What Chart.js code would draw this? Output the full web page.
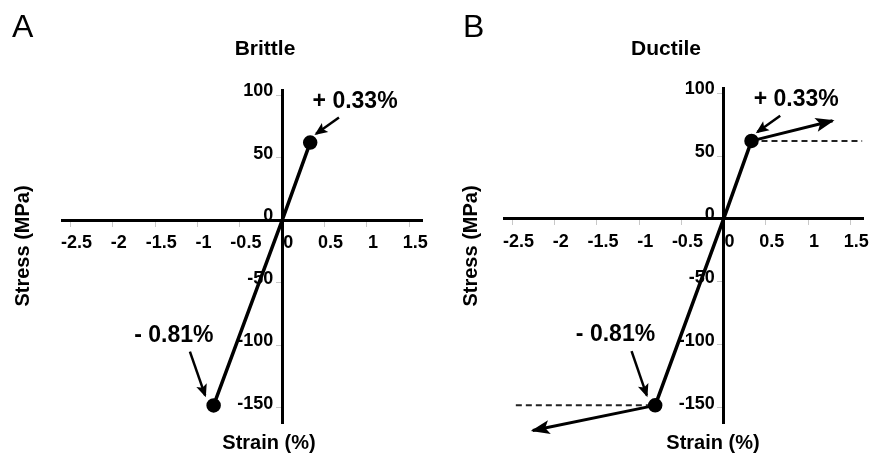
<!DOCTYPE html>
<html lang="en">
<head>
<meta charset="UTF-8">
<title>Brittle vs Ductile stress-strain</title>
<script src="https://cdn.jsdelivr.net/npm/chart.js"></script>
<style>
    body {
        margin: 0;
        background: #ffffff;
    }
    .wrap {
        display: flex;
        width: 872px;
        height: 453px;
    }
    .panel {
        width: 436px;
        height: 453px;
    }
</style>
</head>
<body>
<div class="wrap">
    <div class="panel"><canvas id="brittleChart" width="436" height="453"></canvas></div>
    <div class="panel"><canvas id="ductileChart" width="436" height="453"></canvas></div>
</div>
<script>
// axis ticks and ranges
const xTicks = [-2.5, -2, -1.5, -1, -0.5, 0, 0.5, 1, 1.5];
const yTicks = [-150, -100, -50, 0, 50, 100];
const strainRange = [-2.6, 1.65];
const stressRange = [-162, 104];

// elastic path: compression end, origin, tension end
const elasticStrain = [-0.81, 0, 0.33];
const elasticStress = [-148, 0, 62];

// ductile only: post-yield arrows and yield level guides
const tensionArrowStrain = [0.33, 1.29];
const tensionArrowStress = [62, 78];
const compressionArrowStrain = [-0.81, -2.26];
const compressionArrowStress = [-148, -168];
const tensionYieldStrain = [0.33, 1.64];
const tensionYieldStress = [62, 62];
const compressionYieldStrain = [-2.46, -0.81];
const compressionYieldStress = [-148, -148];

// callouts and their pointer arrows
const calloutText = ['+ 0.33%', '- 0.81%'];
const calloutStrain = [0.86, -1.28];
const calloutStress = [95, -92];
const pointerStrain = [[0.67, 0.40], [-1.09, -0.91]];
const pointerStress = [[82, 69], [-105, -140]];

const FONT = '"Liberation Sans", Arial, sans-serif';

function pts(xs, ys) {
    return xs.map((x, i) => ({ x: x, y: ys[i] }));
}

function lineSet(xs, ys, extra) {
    return Object.assign({
        data: pts(xs, ys),
        showLine: true,
        borderColor: '#000',
        backgroundColor: '#000',
        borderWidth: 3.5,
        pointRadius: 0,
        clip: false
    }, extra || {});
}

function baseSets() {
    const sets = [
        lineSet(elasticStrain, elasticStress, { pointRadius: [5.5, 0, 5.5] })
    ];
    pointerStrain.forEach((xs, i) => {
        sets.push(lineSet(xs, pointerStress[i], { borderWidth: 2.5, arrowHead: [11, 5.5] }));
    });
    return sets;
}

// draws arrow heads, panel letters, titles, axis titles and callouts
const panelDecor = {
    id: 'panelDecor',
    afterDatasetsDraw(chart, args, opts) {
        const ctx = chart.ctx;
        chart.data.datasets.forEach((ds, i) => {
            if (!ds.arrowHead) return;
            const pts = chart.getDatasetMeta(i).data;
            const a = pts[pts.length - 2], b = pts[pts.length - 1];
            const ang = Math.atan2(b.y - a.y, b.x - a.x);
            const L = ds.arrowHead[0], W = ds.arrowHead[1];
            ctx.save();
            ctx.translate(b.x, b.y);
            ctx.rotate(ang);
            ctx.fillStyle = '#000';
            ctx.beginPath();
            ctx.moveTo(2, 0);
            ctx.lineTo(-L, -W);
            ctx.lineTo(-L * 0.75, 0);
            ctx.lineTo(-L, W);
            ctx.closePath();
            ctx.fill();
            ctx.restore();
        });
    },
    afterDraw(chart, args, opts) {
        const ctx = chart.ctx;
        const sx = chart.scales.x, sy = chart.scales.y;
        ctx.save();
        ctx.fillStyle = '#000';

        ctx.font = '32px ' + FONT;
        ctx.textAlign = 'left';
        ctx.textBaseline = 'alphabetic';
        ctx.fillText(opts.letter, opts.letterX, 37);

        ctx.textAlign = 'center';
        ctx.textBaseline = 'middle';
        ctx.font = 'bold 21px ' + FONT;
        ctx.fillText(opts.title, opts.titleX, 49);

        ctx.font = 'bold 20px ' + FONT;
        ctx.fillText('Strain (%)', opts.xTitleX, 443);

        ctx.save();
        ctx.translate(opts.yTitleX, 246);
        ctx.rotate(-Math.PI / 2);
        ctx.fillText('Stress (MPa)', 0, 0);
        ctx.restore();

        ctx.font = 'bold 23px ' + FONT;
        calloutText.forEach((t, i) => {
            ctx.fillText(t, sx.getPixelForValue(calloutStrain[i]), sy.getPixelForValue(calloutStress[i]));
        });
        ctx.restore();
    }
};

function makeOptions(decor, padding) {
    const tickFont = { family: FONT, size: 18, weight: 'bold' };
    const yBase = {
        type: 'linear',
        min: stressRange[0],
        max: stressRange[1],
        afterBuildTicks: s => { s.ticks = yTicks.map(v => ({ value: v })); }
    };
    return {
        responsive: false,
        animation: false,
        events: [],
        layout: { padding: padding },
        plugins: {
            legend: { display: false },
            tooltip: { enabled: false },
            panelDecor: decor
        },
        scales: {
            x: {
                type: 'linear',
                min: strainRange[0],
                max: strainRange[1],
                position: { y: 0 },
                afterBuildTicks: s => { s.ticks = xTicks.map(v => ({ value: v })); },
                grid: { drawOnChartArea: false, drawTicks: true, tickLength: 5, color: '#c8c8c8' },
                border: { display: true, color: '#000', width: 3 },
                ticks: {
                    font: tickFont, color: '#000', padding: 7, labelOffset: 6,
                    autoSkip: false, maxRotation: 0, callback: v => String(v)
                }
            },
            // axis line and tick marks at strain 0
            y: Object.assign({}, yBase, {
                position: { x: 0 },
                grid: { drawOnChartArea: false, drawTicks: true, tickLength: 5, color: '#c8c8c8' },
                border: { display: true, color: '#000', width: 3 },
                ticks: { display: false }
            }),
            // tick labels, set a little left of the axis line
            yLabels: Object.assign({}, yBase, {
                position: { x: -0.105 },
                grid: { display: false },
                border: { display: false },
                ticks: {
                    font: tickFont, color: '#000', labelOffset: -4,
                    autoSkip: false, callback: v => String(v)
                }
            })
        }
    };
}

// Brittle
new Chart(document.getElementById('brittleChart'), {
    type: 'scatter',
    data: { datasets: baseSets() },
    options: makeOptions(
        { letter: 'A', letterX: 12, title: 'Brittle', titleX: 265, xTitleX: 269, yTitleX: 23 },
        { left: 62, right: 14, top: 90, bottom: 30 }
    ),
    plugins: [panelDecor]
});

// Ductile
const ductileSets = baseSets().concat([
    lineSet(tensionYieldStrain, tensionYieldStress, { borderWidth: 2, borderColor: '#222', borderDash: [6, 4] }),
    lineSet(compressionYieldStrain, compressionYieldStress, { borderWidth: 2, borderColor: '#222', borderDash: [6, 4] }),
    lineSet(tensionArrowStrain, tensionArrowStress, { borderWidth: 3, arrowHead: [17, 7] }),
    lineSet(compressionArrowStrain, compressionArrowStress, { borderWidth: 3, arrowHead: [17, 7] })
]);

new Chart(document.getElementById('ductileChart'), {
    type: 'scatter',
    data: { datasets: ductileSets },
    options: makeOptions(
        { letter: 'B', letterX: 27, title: 'Ductile', titleX: 230, xTitleX: 277, yTitleX: 35 },
        { left: 68, right: 6, top: 88, bottom: 30 }
    ),
    plugins: [panelDecor]
});
</script>
</body>
</html>
